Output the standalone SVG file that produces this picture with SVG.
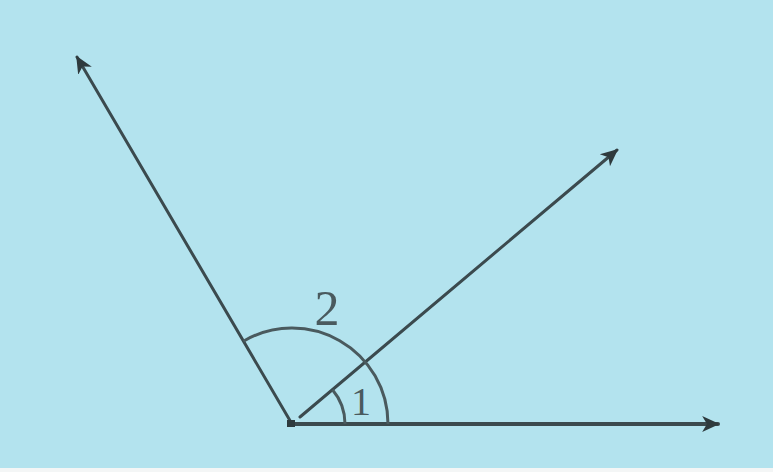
<svg xmlns="http://www.w3.org/2000/svg" width="773" height="472" viewBox="0 0 773 472">
<style>
.ray{stroke:#3b4a4e;stroke-width:3;fill:none;stroke-linecap:round}
.arc{stroke:#4a5a5e;stroke-width:3;fill:none}
.lbl{font-family:"Liberation Serif",serif;fill:#4a5a5e}
</style>
<defs>
<marker id="ah" viewBox="0 0 12 12" refX="10" refY="6" markerWidth="19" markerHeight="19" orient="auto" markerUnits="userSpaceOnUse">
<path d="M0,1 L11,6 L0,11 L3,6 Z" fill="#2e3a3d"/>
</marker>
</defs>
<rect x="0" y="0" width="773" height="472" fill="#b3e3ee"/>
<rect x="0" y="468" width="773" height="4" fill="#f4f6f6"/>
<g id="connectors">
<line class="ray" x1="292" y1="424" x2="77" y2="57" marker-end="url(#ah)"/>
<line class="ray" x1="300" y1="417" x2="617" y2="150" marker-end="url(#ah)"/>
<line class="ray" x1="290" y1="424" x2="718" y2="424" marker-end="url(#ah)" style="stroke-width:4"/>
</g>
<g id="vertex"><rect x="287" y="420" width="8" height="7" fill="#2e3a3d"/></g>
<g id="angle2">
<path class="arc" d="M243.4,341.2 A96,96 0 0 1 388,424"/>
<text class="lbl" x="327" y="325" font-size="50" text-anchor="middle">2</text>
</g>
<g id="angle1">
<path class="arc" d="M332.5,389.8 A53,53 0 0 1 345,424"/>
<text class="lbl" x="361" y="415" font-size="40" text-anchor="middle">1</text>
</g>
</svg>
